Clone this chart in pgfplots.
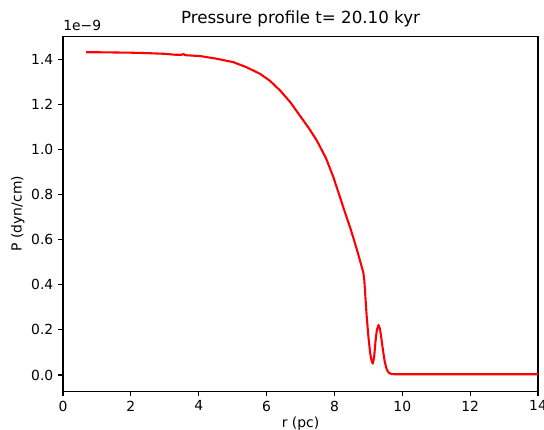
\documentclass[border=0pt]{standalone}
\usepackage{fontspec}
\setmainfont{DejaVu Sans}
\usepackage{pgfplots}
\pgfplotsset{compat=1.18}
\begin{document}
\begin{tikzpicture}
\begin{axis}[
  scale only axis,
  width=342pt, height=255.6pt,
  xmin=0, xmax=14,
  ymin=-0.0716, ymax=1.5036,
  xtick={0,2,...,14},
  ytick={0,0.2,...,1.4},
  scaled y ticks=false,
  /pgf/number format/assume math mode=true,
  yticklabel style={/pgf/number format/.cd,fixed,fixed zerofill,precision=1},
  xticklabel style={/pgf/number format/.cd,fixed,precision=0},
  tick pos=left,
  tick align=outside,
  major tick length=3.5pt,
  tick style={line width=0.8pt, black},
  axis line style={line width=0.8pt},
  ticklabel style={font=\fontsize{10}{12}\selectfont},
  label style={font=\fontsize{10}{12}\selectfont},
  xlabel={r (pc)},
  ylabel={P (dyn/cm)},
  xlabel style={yshift=3pt},
  ylabel style={yshift=-2pt},
  title={Pressure profile t= 20.10 kyr},
  title style={font=\fontsize{12}{14}\selectfont, yshift=-3pt},
]
\coordinate (SW) at (rel axis cs:0,0);
\coordinate (NE) at (rel axis cs:1,1);
\coordinate (NW) at (rel axis cs:0,1);
\addplot[red, line width=1.5pt, line join=round] coordinates {
(0.68,1.432) (1.0,1.432) (1.5,1.431) (2.0,1.430) (2.5,1.428) (3.0,1.425)
(3.3,1.421) (3.5,1.421) (3.55,1.424) (3.6,1.419) (4.04,1.415) (4.5,1.404)
(5.02,1.388) (5.4,1.366) (5.81,1.336) (6.1,1.305) (6.4,1.262) (6.7,1.210)
(6.98,1.151) (7.25,1.094) (7.48,1.040) (7.75,0.962) (7.97,0.877) (8.16,0.790)
(8.36,0.699) (8.46,0.655) (8.58,0.597) (8.70,0.536) (8.80,0.482) (8.85,0.455)
(8.88,0.42) (8.91,0.35) (8.95,0.26) (9.0,0.17) (9.05,0.10) (9.09,0.065)
(9.13,0.05) (9.17,0.08) (9.21,0.15) (9.25,0.20) (9.30,0.222) (9.34,0.205)
(9.38,0.165) (9.43,0.11) (9.48,0.06) (9.54,0.025) (9.60,0.010) (9.68,0.004)
(9.8,0.003) (14,0.003)
};
\end{axis}
\node[anchor=south west, inner sep=0pt, font=\fontsize{10}{12}\selectfont] at ([yshift=4pt]NW) {1e−9};
\pgfresetboundingbox
\path[use as bounding box] ([xshift=-45.4pt,yshift=-27.4pt]SW) rectangle ([xshift=4.3pt,yshift=26pt]NE);
\end{tikzpicture}
\end{document}
